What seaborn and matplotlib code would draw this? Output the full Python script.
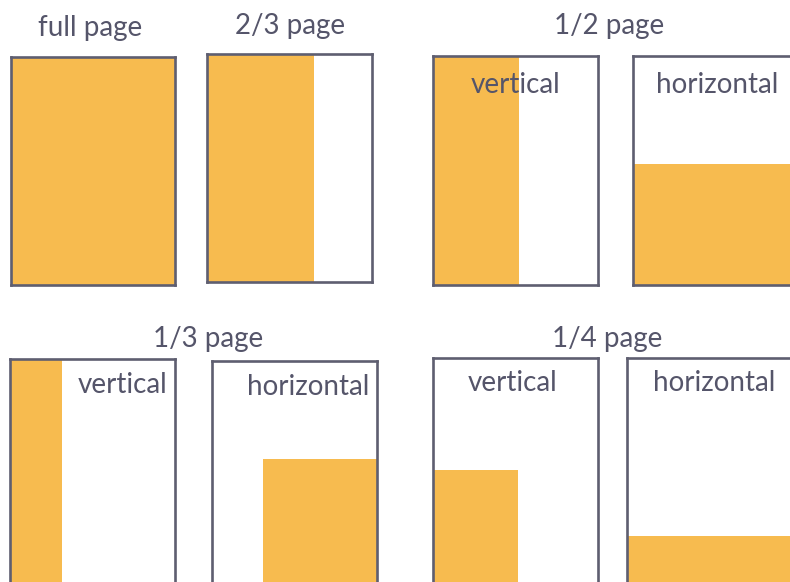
import matplotlib
matplotlib.use("Agg")
import matplotlib.pyplot as plt
import seaborn as sns

sns.set_theme(style="white")
plt.rcParams['font.family'] = ['Lato', 'DejaVu Sans']

# ---- data ----
panel_names = ["full", "2/3", "1/2 v", "1/2 h", "1/3 v", "1/3 h", "1/4 v", "1/4 h"]
fill_left = [0.0, 0.0, 0.0, 0.0, 0.0, 0.31, 0.0, 0.0]
fill_width = [1.0, 0.65, 0.52, 1.0, 0.315, 0.69, 0.515, 1.0]
fill_height = [1.0, 1.0, 1.0, 0.53, 1.0, 0.57, 0.51, 0.22]
inner_labels = ["", "", "vertical", "horizontal", "vertical", "horizontal", "vertical", "horizontal"]
group_titles = ["full page", "2/3 page", "1/2 page", "1/3 page", "1/4 page"]

# ---- layout (pixels) ----
W, H = 790, 582
frames = [  # left, top, right, bottom
    (11, 57, 175, 285),
    (207, 54, 372, 282),
    (433, 56, 598, 285),
    (633, 56, 798, 285),
    (10, 359, 175, 587),
    (212, 361, 377, 589),
    (433, 358, 598, 586),
    (627, 358, 792, 586),
]
label_pos = [None, None, (0.50, 0.875), (0.51, 0.875), (0.68, 0.885), (0.58, 0.885), (0.485, 0.89), (0.53, 0.89)]
title_pos = [(90, 28), (290, 26), (609, 26), (208, 339), (607, 339)]

FILL = "#f7bb4f"
EDGE = "#5e5e70"
TEXT = "#55556a"
FS = 20

fig = plt.figure(figsize=(W / 100, H / 100), dpi=100)
fig.patch.set_facecolor("white")

for i, (l, t, r, b) in enumerate(frames):
    ax = fig.add_axes([l / W, 1 - b / H, (r - l) / W, (b - t) / H])
    ax.set_xlim(0, 1)
    ax.set_ylim(0, 1)
    ax.bar([fill_left[i]], [fill_height[i]], width=[fill_width[i]], align="edge",
           color=FILL, edgecolor="none", linewidth=0, zorder=1)
    ax.set_xticks([])
    ax.set_yticks([])
    for sp in ax.spines.values():
        sp.set_visible(True)
        sp.set_color(EDGE)
        sp.set_linewidth(1.9)
        sp.set_zorder(3)
    ax.set_facecolor("white")
    if inner_labels[i]:
        x, y = label_pos[i]
        ax.text(x, y, inner_labels[i], ha="center", va="center", fontsize=FS,
                color=TEXT, zorder=4)

for txt, (x, y) in zip(group_titles, title_pos):
    fig.text(x / W, 1 - y / H, txt, ha="center", va="center", fontsize=FS, color=TEXT)

fig.savefig("out.png", dpi=100, facecolor="white")
